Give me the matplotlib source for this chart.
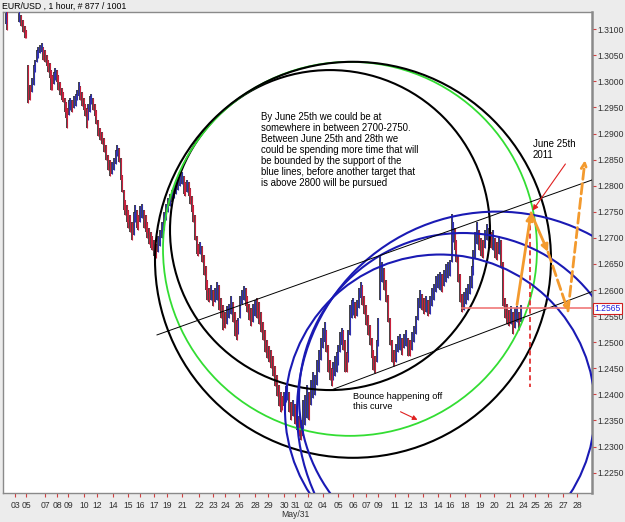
import matplotlib
matplotlib.use('Agg')
import matplotlib.pyplot as plt
from matplotlib.patches import Ellipse

plt.rcParams['font.family'] = ['Liberation Sans', 'DejaVu Sans']

# hourly bars: column position, high, low
bar_x = [6, 7, 19, 21, 23, 25, 26,
         28, 30, 32, 34, 35, 37, 38, 40, 42, 43, 45, 47, 48, 50, 51, 52, 54, 55, 57, 58, 60, 62, 63, 65, 66, 67,
         69, 70, 72, 74, 76, 77, 79, 80, 82, 84, 85, 87, 88, 90, 91, 93, 95, 96,
         98, 100, 102, 104, 106, 108, 110, 112, 114, 116, 117, 119, 121, 122, 124, 125, 127, 128, 130, 132, 134,
         135, 137, 138, 140, 142, 144, 146, 147, 149, 151, 152, 154, 156, 158, 160, 162, 164, 166, 168, 170, 172,
         174, 176, 178, 180, 182, 184, 185, 187, 189, 190, 192, 193, 195, 197, 198, 200, 202, 204, 206, 207,
         209, 211, 213, 215, 217, 219, 221, 223, 225, 227, 229, 231, 233, 235, 237, 238, 240, 242, 244, 246, 247,
         249, 251, 253, 255, 257, 259, 261, 263, 265, 267, 269, 271, 273, 275, 277, 279, 281, 282, 284, 286, 287,
         289, 291, 293, 295, 297, 299, 301, 303,
         305, 307, 309, 311, 313, 315, 317, 319, 321, 323, 325, 326, 328, 330, 332, 333, 335, 337, 338, 340, 342,
         343, 345, 347, 348, 350, 352, 353, 355, 357, 359, 361, 362, 364, 366, 368, 370, 372, 373, 375, 377, 378,
         380, 382, 384, 386, 388, 390, 392, 394, 396, 398, 400, 402, 404, 406, 408, 410, 412, 414, 416, 418, 420,
         422, 424, 426, 428, 430, 432, 434, 436, 438, 440, 442, 444, 446, 448, 450, 452, 453, 455, 456, 458, 460,
         462, 464, 466, 468, 470, 472, 473, 475, 477, 479, 481, 483, 485, 487, 489, 491, 493, 495, 497, 499, 501,
         503, 505, 507, 509, 511, 513, 515, 517, 519, 521]
bar_hi = [1.3140, 1.3135, 1.3137, 1.3127, 1.3118, 1.3106, 1.3099,
          1.3031, 1.2993, 1.3007, 1.3031, 1.3041, 1.3060, 1.3066, 1.3070, 1.3074, 1.3066, 1.3060, 1.3051, 1.3041,
          1.3035, 1.3022, 1.3012, 1.3018, 1.3026, 1.3022, 1.3012, 1.2999, 1.2987, 1.2980, 1.2968, 1.2961, 1.2949,
          1.2964, 1.2968, 1.2964, 1.2972, 1.2976, 1.2984, 1.2999, 1.2991, 1.2980, 1.2968, 1.2957, 1.2949, 1.2957,
          1.2972, 1.2976, 1.2968, 1.2957, 1.2945,
          1.2926, 1.2911, 1.2903, 1.2892, 1.2878, 1.2859, 1.2849, 1.2846, 1.2853, 1.2869, 1.2878, 1.2872, 1.2853,
          1.2821, 1.2792, 1.2773, 1.2763, 1.2754, 1.2744, 1.2731, 1.2750,
          1.2763, 1.2754, 1.2744, 1.2761, 1.2765, 1.2754, 1.2744, 1.2731, 1.2719, 1.2711, 1.2704, 1.2696, 1.2689,
          1.2704, 1.2715, 1.2731, 1.2750, 1.2765, 1.2777, 1.2784, 1.2792,
          1.2800, 1.2811, 1.2815, 1.2823, 1.2826, 1.2819, 1.2807, 1.2811, 1.2807, 1.2796, 1.2781, 1.2763, 1.2744,
          1.2704, 1.2689, 1.2692, 1.2685, 1.2667, 1.2646, 1.2620,
          1.2604, 1.2610, 1.2600, 1.2604, 1.2616, 1.2610, 1.2585, 1.2572, 1.2558, 1.2570, 1.2574, 1.2589, 1.2577,
          1.2558, 1.2543, 1.2547, 1.2589, 1.2600, 1.2608, 1.2604, 1.2589,
          1.2574, 1.2566, 1.2574, 1.2581, 1.2585, 1.2577, 1.2558, 1.2539, 1.2524, 1.2505, 1.2493, 1.2485, 1.2474,
          1.2455, 1.2437, 1.2418, 1.2405, 1.2397, 1.2405, 1.2416, 1.2420,
          1.2405, 1.2386, 1.2390, 1.2382, 1.2371, 1.2359, 1.2351, 1.2390,
          1.2399, 1.2418, 1.2405, 1.2428, 1.2443, 1.2437, 1.2466, 1.2485, 1.2508, 1.2528, 1.2539, 1.2524, 1.2495,
          1.2466, 1.2451, 1.2462, 1.2474, 1.2482, 1.2495, 1.2520, 1.2528,
          1.2524, 1.2505, 1.2482, 1.2524, 1.2572, 1.2581, 1.2585, 1.2577, 1.2581, 1.2604, 1.2616, 1.2610, 1.2589,
          1.2572, 1.2552, 1.2533, 1.2508, 1.2485, 1.2474, 1.2505, 1.2547,
          1.2666, 1.2654, 1.2643, 1.2620, 1.2591, 1.2547, 1.2505, 1.2485, 1.2497, 1.2512, 1.2516, 1.2508, 1.2516,
          1.2524, 1.2508, 1.2505, 1.2520, 1.2532, 1.2551, 1.2585, 1.2600,
          1.2593, 1.2585, 1.2589, 1.2581, 1.2589, 1.2604, 1.2612, 1.2627, 1.2631, 1.2635, 1.2631, 1.2639, 1.2650,
          1.2654, 1.2658, 1.2746, 1.2731, 1.2719, 1.2696, 1.2666, 1.2631,
          1.2593, 1.2597, 1.2604, 1.2612, 1.2627, 1.2646, 1.2677, 1.2711, 1.2731, 1.2715, 1.2700, 1.2696, 1.2715,
          1.2727, 1.2719, 1.2711, 1.2715, 1.2700, 1.2692, 1.2704, 1.2696,
          1.2654, 1.2585, 1.2574, 1.2562, 1.2570, 1.2558, 1.2566, 1.2570, 1.2558, 1.2572]
bar_lo = [1.3110, 1.3099, 1.3114, 1.3106, 1.3095, 1.3083, 1.3083,
          1.2959, 1.2964, 1.2980, 1.2993, 1.3018, 1.3037, 1.3045, 1.3054, 1.3056, 1.3041, 1.3037, 1.3030, 1.3018,
          1.3007, 1.2984, 1.2984, 1.2995, 1.3003, 1.2999, 1.2984, 1.2974, 1.2964, 1.2961, 1.2941, 1.2930, 1.2911,
          1.2936, 1.2945, 1.2941, 1.2949, 1.2953, 1.2964, 1.2972, 1.2964, 1.2953, 1.2945, 1.2934, 1.2911, 1.2926,
          1.2941, 1.2957, 1.2945, 1.2934, 1.2918,
          1.2895, 1.2888, 1.2880, 1.2865, 1.2849, 1.2830, 1.2819, 1.2823, 1.2830, 1.2842, 1.2857, 1.2846, 1.2811,
          1.2788, 1.2754, 1.2744, 1.2731, 1.2719, 1.2711, 1.2696, 1.2706,
          1.2731, 1.2719, 1.2715, 1.2731, 1.2738, 1.2719, 1.2711, 1.2700, 1.2689, 1.2681, 1.2677, 1.2666, 1.2662,
          1.2673, 1.2685, 1.2700, 1.2715, 1.2734, 1.2750, 1.2761, 1.2769,
          1.2777, 1.2784, 1.2792, 1.2800, 1.2803, 1.2784, 1.2781, 1.2788, 1.2781, 1.2765, 1.2750, 1.2731, 1.2696,
          1.2669, 1.2666, 1.2669, 1.2654, 1.2629, 1.2600, 1.2581,
          1.2577, 1.2581, 1.2570, 1.2577, 1.2581, 1.2562, 1.2547, 1.2524, 1.2528, 1.2535, 1.2547, 1.2554, 1.2539,
          1.2512, 1.2505, 1.2516, 1.2547, 1.2574, 1.2581, 1.2570, 1.2558,
          1.2543, 1.2532, 1.2539, 1.2551, 1.2547, 1.2535, 1.2520, 1.2505, 1.2482, 1.2470, 1.2462, 1.2451, 1.2436,
          1.2416, 1.2397, 1.2378, 1.2367, 1.2371, 1.2378, 1.2386, 1.2390,
          1.2367, 1.2351, 1.2359, 1.2344, 1.2332, 1.2321, 1.2313, 1.2321,
          1.2342, 1.2355, 1.2351, 1.2380, 1.2393, 1.2399, 1.2418, 1.2443, 1.2466, 1.2489, 1.2501, 1.2482, 1.2443,
          1.2428, 1.2416, 1.2428, 1.2436, 1.2443, 1.2457, 1.2482, 1.2495,
          1.2485, 1.2443, 1.2443, 1.2462, 1.2514, 1.2547, 1.2552, 1.2547, 1.2551, 1.2566, 1.2585, 1.2572, 1.2554,
          1.2533, 1.2514, 1.2495, 1.2470, 1.2447, 1.2441, 1.2462, 1.2493,
          1.2581, 1.2616, 1.2600, 1.2577, 1.2539, 1.2495, 1.2462, 1.2455, 1.2462, 1.2482, 1.2485, 1.2476, 1.2489,
          1.2493, 1.2474, 1.2474, 1.2485, 1.2501, 1.2516, 1.2543, 1.2566,
          1.2562, 1.2554, 1.2558, 1.2551, 1.2554, 1.2570, 1.2581, 1.2597, 1.2604, 1.2600, 1.2597, 1.2608, 1.2616,
          1.2623, 1.2627, 1.2654, 1.2692, 1.2677, 1.2654, 1.2616, 1.2577,
          1.2558, 1.2562, 1.2574, 1.2581, 1.2593, 1.2604, 1.2629, 1.2662, 1.2689, 1.2677, 1.2666, 1.2662, 1.2681,
          1.2696, 1.2685, 1.2681, 1.2677, 1.2662, 1.2658, 1.2669, 1.2643,
          1.2570, 1.2547, 1.2535, 1.2532, 1.2535, 1.2516, 1.2528, 1.2539, 1.2524, 1.2539]

# date labels along the bottom
date_pos = [15, 26, 45, 57, 68, 84, 97, 113, 128, 140, 154, 167, 182, 199, 213, 225, 239, 255, 268, 284,
            295, 308, 323, 338, 353, 366, 378, 395, 408, 423, 438, 450, 465, 480, 494, 510, 523, 535, 548, 563, 577]
date_lab = ['03', '05', '07', '08', '09', '10', '12', '14', '15', '16', '17', '19', '21', '22', '23', '24', '26',
            '28', '29', '30', '31', '02', '04', '05', '06', '07', '09', '11', '12', '13', '14', '16', '18', '19',
            '20', '21', '24', '25', '26', '27', '28']
price_ticks = [1.2250, 1.2300, 1.2350, 1.2400, 1.2450, 1.2500, 1.2550, 1.2600, 1.2650, 1.2700,
               1.2750, 1.2800, 1.2850, 1.2900, 1.2950, 1.3000, 1.3050, 1.3100]
last_price = 1.2565

# circles drawn on the chart: centre (column, price) and radius in columns
circ_x = [330, 350, 353, 497, 463, 440]
circ_p = [1.2715, 1.2679, 1.2658, 1.2367, 1.2395, 1.2371]
circ_r = [160, 187, 198, 200, 164, 155]

# trend lines (start column, start price, end column, end price)
trend_up = [157, 1.2514, 592, 1.2811]
trend_lo = [332, 1.2409, 592, 1.2597]

# projected path
proj_x = [517, 531, 548, 568, 585]
proj_p = [1.2572, 1.2748, 1.2673, 1.2560, 1.2849]

xmin, xmax = 3, 592
ymin, ymax = 1.2211, 1.3133

W, H = 625, 522
fig = plt.figure(figsize=(W / 100, H / 100), dpi=100, facecolor='#ececec')
ax = fig.add_axes([3 / W, 29 / H, 589 / W, 481 / H])
ax.set_facecolor('white')
ax.set_xlim(xmin, xmax)
ax.set_ylim(ymin, ymax)

# bars, blue when rising, red when falling
cols = []
prev = None
for h, l in zip(bar_hi, bar_lo):
    if prev is None or h + l >= prev:
        cols.append('#3030b0')
    else:
        cols.append('#c8203c')
    prev = h + l
ax.vlines(bar_x, bar_lo, bar_hi, colors='#111111', lw=1.1, zorder=2)
ax.vlines(bar_x, bar_lo, bar_hi, colors=cols, lw=0.8, zorder=3)

# circles: make them round on screen
ax_w = 589
ax_h = 481
yscale = (ymax - ymin) / ax_h / ((xmax - xmin) / ax_w)
circ_col = ['black', '#33dd33', 'black', '#1a1ab4', '#1a1ab4', '#1a1ab4']
for cx, cp, r, c in zip(circ_x, circ_p, circ_r, circ_col):
    ax.add_patch(Ellipse((cx, cp), 2 * r, 2 * r * yscale, fill=False, ec=c,
                         lw=1.5 if c != '#33dd33' else 1.3, zorder=4))

ax.plot(trend_up[0::2], trend_up[1::2], color='black', lw=0.7, zorder=5)
ax.plot(trend_lo[0::2], trend_lo[1::2], color='black', lw=0.7, zorder=5)

# last price line
ax.plot([462, 592], [last_price, last_price], color='#f07878', lw=1.2, zorder=5)

# June 25th marker
ax.plot([530, 530], [1.2740, 1.2414], color='#e02020', lw=1.2, ls=(0, (3, 2)), zorder=5)
ax.annotate('', xy=(531, 1.2748), xytext=(567, 1.2846),
            arrowprops=dict(arrowstyle='-|>', color='#e02020', lw=0.8, mutation_scale=8), zorder=6)
ax.text(533, 1.2890, 'June 25th\n2011', fontsize=7, va='top', ha='left', linespacing=1.1)

orange = '#f39a2e'
for i in range(4):
    dashed = i >= 2
    ax.annotate('', xy=(proj_x[i + 1], proj_p[i + 1]), xytext=(proj_x[i], proj_p[i]),
                arrowprops=dict(arrowstyle='-|>' if not dashed else '->', color=orange, lw=2.0,
                                ls='--' if dashed else '-', mutation_scale=10,
                                shrinkA=0, shrinkB=0), zorder=7)

txt = ('By June 25th we could be at\nsomewhere in between 2700-2750.\nBetween June 25th and 28th we\n'
       'could be spending more time that will\nbe bounded by the support of the\n'
       'blue lines, before another target that\nis above 2800 will be pursued')
ax.text(261, 1.2942, txt, fontsize=6.9, va='top', ha='left', linespacing=1.13, zorder=8)

ax.text(353, 1.2404, 'Bounce happening off\nthis curve', fontsize=6.6, va='top', ha='left',
        linespacing=1.15, zorder=8)
ax.annotate('', xy=(420, 1.2349), xytext=(398, 1.2369),
            arrowprops=dict(arrowstyle='-|>', color='#e02020', lw=0.8, mutation_scale=7), zorder=8)

# axes look
for s in ax.spines.values():
    s.set_color('#8a8a8a')
    s.set_linewidth(1.0)
ax.spines['right'].set_linewidth(1.8)
ax.yaxis.tick_right()
ax.set_yticks(price_ticks)
ax.set_yticklabels(['%.4f' % p for p in price_ticks])
ax.tick_params(axis='y', which='both', colors='#d04040', length=3, width=0.8, pad=1,
               labelsize=6.2, labelcolor='#303030')
ax.set_xticks(date_pos)
ax.set_xticklabels(date_lab)
ax.tick_params(axis='x', colors='#d04040', length=3, width=0.8, pad=3,
               labelsize=6.2, labelcolor='#303030')
ax.text(295, -0.036, 'May/31', transform=ax.get_xaxis_transform(), ha='center', va='top',
        fontsize=6.2, color='#303030')

ax.text(1.0035, last_price, '%.4f' % last_price, transform=ax.get_yaxis_transform(), ha='left',
        va='center', fontsize=6.2, color='#2020e0', clip_on=False, zorder=9,
        bbox=dict(boxstyle='square,pad=0.15', fc='white', ec='#d02020', lw=0.8))

fig.text(2 / W, 1 - 6 / H, 'EUR/USD , 1 hour, # 877 / 1001', fontsize=6.3, va='center', ha='left')

fig.savefig('out.png', dpi=100, facecolor=fig.get_facecolor())
